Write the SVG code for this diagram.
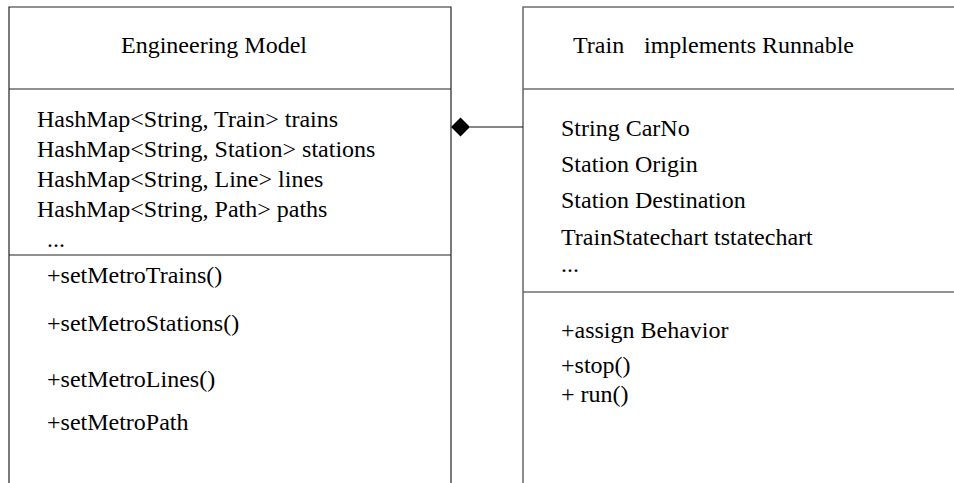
<svg xmlns="http://www.w3.org/2000/svg" width="954" height="483" viewBox="0 0 954 483">
<style>
.t { font-family: 'Liberation Serif', 'Times New Roman', Times, 'DejaVu Serif', serif; font-size: 24px; fill: #000; }
.boxL { fill: none; stroke: #222; stroke-width: 1.2; }
.boxR { fill: none; stroke: #6e6e6e; stroke-width: 1.6; }
.conn { fill: none; stroke: #111; stroke-width: 1.2; }
</style>
<rect x="0" y="0" width="954" height="483" fill="#fff"/>
<g id="engineering-model">
  <path class="boxL" d="M9,484 V7 H451 V484"/>
  <line class="boxL" x1="9" y1="89" x2="451" y2="89"/>
  <line class="boxL" x1="9" y1="255" x2="451" y2="255"/>
  <g class="t" font-family="Liberation Serif, Times New Roman, serif">
    <text x="121" y="53">Engineering Model</text>
    <text x="37" y="127">HashMap&lt;String, Train&gt; trains</text>
    <text x="37" y="157">HashMap&lt;String, Station&gt; stations</text>
    <text x="37" y="187">HashMap&lt;String, Line&gt; lines</text>
    <text x="37" y="217">HashMap&lt;String, Path&gt; paths</text>
    <text x="47" y="247">...</text>
    <text x="47" y="283">+setMetroTrains()</text>
    <text x="47" y="331">+setMetroStations()</text>
    <text x="47" y="387">+setMetroLines()</text>
    <text x="47" y="430">+setMetroPath</text>
  </g>
</g>
<g id="train">
  <path class="boxR" d="M523,484 V7 H955"/>
  <line class="boxR" x1="523" y1="89" x2="955" y2="89"/>
  <line class="boxR" x1="523" y1="292" x2="955" y2="292"/>
  <g class="t" font-family="Liberation Serif, Times New Roman, serif">
    <text y="53"><tspan x="573">Train</tspan><tspan x="644">implements Runnable</tspan></text>
    <text x="561" y="136">String CarNo</text>
    <text x="561" y="172">Station Origin</text>
    <text x="561" y="208">Station Destination</text>
    <text x="561" y="245">TrainStatechart tstatechart</text>
    <text x="561" y="272">...</text>
    <text x="561" y="338">+assign Behavior</text>
    <text x="561" y="373">+stop()</text>
    <text x="561" y="402">+ run()</text>
  </g>
</g>
<g id="connectors">
  <line class="conn" x1="470" y1="127" x2="523" y2="127"/>
  <polygon points="451,127 460.5,117.5 470,127 460.5,136.5" fill="#000"/>
</g>
</svg>
